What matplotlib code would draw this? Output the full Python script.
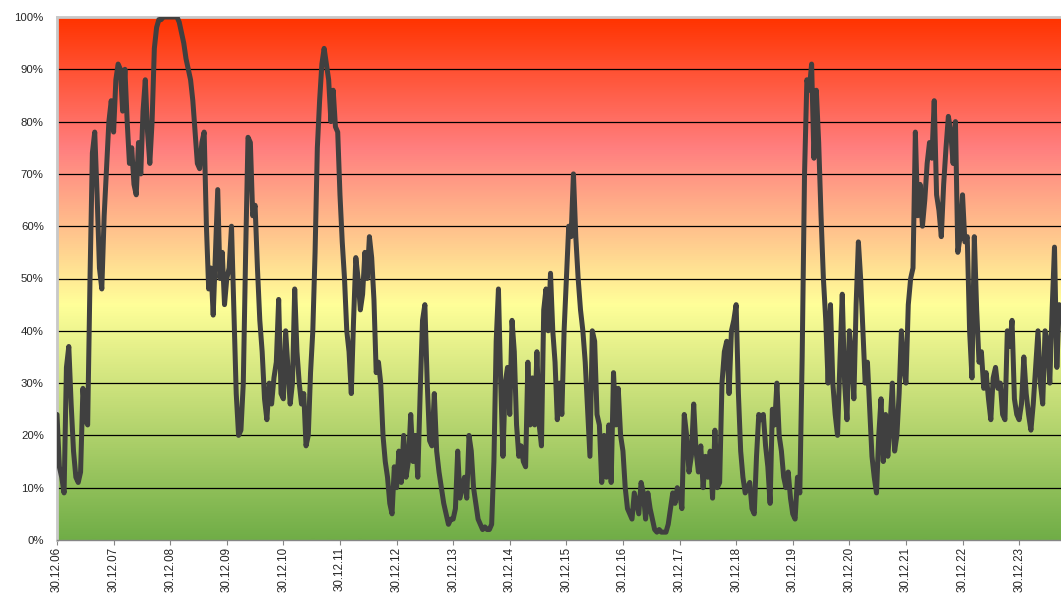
import numpy as np
import matplotlib
matplotlib.use("Agg")
import matplotlib.pyplot as plt
from matplotlib.colors import LinearSegmentedColormap

# ---------------- data (percent values, sampled uniformly inside each year) ----
tick_labels = ["30.12.06", "30.12.07", "30.12.08", "30.12.09", "30.12.10",
               "30.12.11", "30.12.12", "30.12.13", "30.12.14", "30.12.15",
               "30.12.16", "30.12.17", "30.12.18", "30.12.19", "30.12.20",
               "30.12.21", "30.12.22", "30.12.23"]
y_ticks = [0, 10, 20, 30, 40, 50, 60, 70, 80, 90, 100]

y2007 = [24, 14, 12, 9, 33, 37, 26, 17, 12, 11, 13, 29, 23, 22, 50, 74, 78, 66,
         52, 48, 62, 71, 80, 84]
y2008 = [78, 88, 91, 90, 82, 90, 80, 72, 75, 68, 66, 76, 70, 82, 88, 78, 72, 80,
         94, 98, 99.5, 99.5, 100, 100, 100]
y2009 = [100, 100, 100, 100, 99, 97, 95, 92, 90, 88, 84, 78, 72, 71, 76, 78, 60,
         48, 52, 43, 55, 67, 50, 55, 45]
y2010 = [50, 52, 60, 44, 28, 20, 21, 30, 55, 77, 76, 62, 64, 52, 42, 36, 27, 23,
         30, 26, 31, 34, 46, 28]
y2011 = [27, 40, 33, 26, 30, 48, 36, 30, 26, 28, 18, 20, 32, 40, 55, 75, 84, 91,
         94, 91, 88, 80, 86, 79, 78]
y2012 = [66, 57, 50, 40, 36, 28, 42, 54, 50, 44, 47, 55, 50, 58, 54, 46, 32, 34,
         30, 20, 15, 12, 7, 5, 14]
y2013 = [10, 17, 11, 20, 12, 15, 24, 15, 20, 12, 28, 42, 45, 30, 19, 18, 28, 17,
         13, 10, 7, 5, 3, 4]
y2014 = [4, 6, 17, 8, 10, 12, 8, 20, 17, 10, 7, 4, 3, 2, 2.5, 2, 2, 3, 15, 38,
         48, 30, 16, 30, 33]
y2015 = [24, 42, 36, 22, 16, 18, 15, 14, 34, 22, 31, 22, 36, 22, 18, 44, 48, 40,
         51, 40, 34, 23, 30, 24, 40]
y2016 = [50, 60, 58, 70, 58, 50, 44, 40, 34, 25, 16, 40, 38, 24, 22, 11, 20, 12,
         22, 11, 32, 22, 29, 20]
y2017 = [17, 10, 6, 5, 4, 9, 7, 5, 11, 9, 4, 9, 6, 4, 2, 1.5, 2, 1.5, 1.5, 1.5,
         3, 6, 9, 7, 10]
y2018 = [9, 6, 24, 20, 13, 16, 26, 17, 13, 18, 10, 16, 12, 17, 8, 21, 10, 11,
         30, 36, 38, 28, 40, 42]
y2019 = [45, 28, 17, 12, 9, 10, 11, 6, 5, 16, 24, 23, 24, 18, 14, 7, 25, 22, 30,
         20, 17, 12, 10, 13, 8]
y2020 = [5, 4, 12, 9, 35, 70, 88, 86, 91, 73, 86, 76, 62, 50, 42, 30, 45, 30,
         24, 20, 34, 47, 30, 23]
y2021 = [40, 35, 27, 45, 57, 50, 40, 30, 34, 25, 16, 12, 9, 20, 27, 15, 24, 16,
         22, 30, 17, 20, 28, 40, 33]
y2022 = [30, 45, 50, 52, 78, 62, 68, 60, 65, 72, 76, 73, 84, 66, 63, 58, 68, 75,
         81, 78, 72, 80, 55, 58]
y2023 = [66, 57, 58, 40, 31, 58, 44, 34, 36, 29, 32, 27, 23, 31, 33, 29, 30, 24,
         23, 40, 37, 42, 27, 24]
y2024 = [23, 26, 35, 28, 24, 21, 26, 33, 40, 30, 26, 40, 38, 30, 44, 56, 33, 45]

full_years = [y2007, y2008, y2009, y2010, y2011, y2012, y2013, y2014, y2015,
              y2016, y2017, y2018, y2019, y2020, y2021, y2022, y2023]
partial_year = y2024
partial_rate = 24  # samples per year in the running year
x_end = 17.74      # axis end, in years after 30.12.06

# ---------------- build series ----------------
xs, vals = [], []
for k, arr in enumerate(full_years):
    n = len(arr)
    xs.extend(k + np.arange(n) / n)
    vals.extend(arr)
xs.extend(len(full_years) + np.arange(len(partial_year)) / partial_rate)
vals.extend(partial_year)

# ---------------- figure ----------------
plt.rcParams['font.family'] = ['Liberation Sans', 'DejaVu Sans']
fig = plt.figure(figsize=(10.61, 5.97), dpi=100)
fig.patch.set_facecolor('white')
ax = fig.add_axes([57 / 1061, (597 - 540) / 597, 1 - 57 / 1061, 523 / 597])

cmap = LinearSegmentedColormap.from_list(
    "bg", [(0.0, '#70AD47'), (0.45, '#FFFF99'), (0.75, '#FF7F7F'),
           (1.0, '#FF3300')])
grad = np.linspace(0, 1, 512).reshape(-1, 1)
ax.imshow(grad, extent=[0, x_end, 0, 100], origin='lower', aspect='auto',
          cmap=cmap, zorder=0, interpolation='bilinear')

for v in y_ticks[1:-1]:
    ax.axhline(v, color='black', lw=0.9, zorder=1)

ax.plot(xs, vals, color='#404040', lw=3.6, solid_joinstyle='round',
        solid_capstyle='round', zorder=3)

ax.set_xlim(0, x_end)
ax.set_ylim(0, 100)

ax.set_yticks(y_ticks)
ax.set_yticklabels([f"{v}%" for v in y_ticks])
ax.set_xticks(range(len(tick_labels)))
ax.set_xticklabels(tick_labels, rotation=90, va='top', ha='center')

ax.tick_params(axis='y', length=0, pad=9.5, labelsize=8.2, labelcolor='#262626')
ax.tick_params(axis='x', length=3.6, width=0.8, color='#868686', pad=1.5,
               labelsize=8.4, labelcolor='#262626')

ax.spines['right'].set_visible(False)
ax.spines['top'].set_color('#C8C8C8')
ax.spines['top'].set_linewidth(2)
ax.spines['left'].set_color('#C8C8C8')
ax.spines['left'].set_linewidth(2)
ax.spines['bottom'].set_color('#868686')
ax.spines['bottom'].set_linewidth(1)

fig.savefig("out.png", dpi=100)
